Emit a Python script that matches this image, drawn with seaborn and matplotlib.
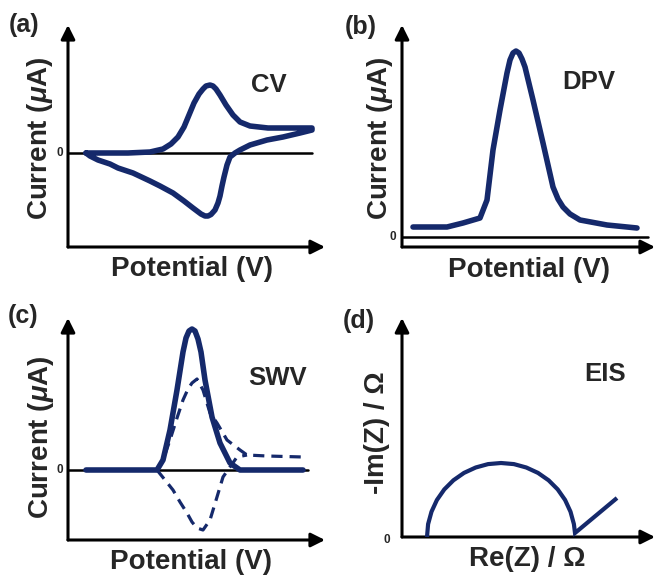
import matplotlib
matplotlib.use("Agg")
import matplotlib.pyplot as plt
import seaborn as sns

# ---------------- data (arbitrary schematic units) ----------------
# (a) CV: forward (upper) branch then reverse (lower) branch, one closed loop
cv_x = [18, 40, 60, 82, 95, 103, 110, 116, 121, 126, 131, 135, 138, 142, 145, 148, 152, 158, 165, 172, 182, 200, 215, 232, 244,
        244, 232, 215, 199, 182, 172, 167, 162, 159, 156, 154, 152, 150, 147, 143, 140, 137, 133, 125, 116, 105, 92, 82, 65, 50, 42, 30, 22, 18]
cv_y = [0, 0, 0, 1, 4, 9, 16, 26, 38, 50, 59, 64, 67, 68, 67, 64, 58, 48, 38, 31, 27, 25, 25, 25, 25,
        23, 20, 16, 13, 8, 3, 0, -4, -12, -24, -33, -43, -50, -57, -61.5, -63, -63, -61, -55, -48, -40, -33, -28, -20, -15, -11, -7, -3, 0]

# (b) DPV
dpv_x = [11, 30, 45, 61, 78, 85, 91, 98, 105, 108, 111, 114, 117, 120, 123, 131, 141, 151, 156, 161, 168, 178, 205, 235]
dpv_y = [10, 10, 10, 14, 19, 37, 87, 127, 164, 177, 184, 186, 184, 178, 170, 137, 94, 50, 38, 30, 23, 17, 12, 9]

# (c) SWV: net (solid), forward and reverse (dashed)
swv_net_x = [18, 40, 60, 89, 95, 102, 109, 115, 118, 121, 124, 127, 130, 133, 137, 144, 152, 162, 172, 200, 235]
swv_net_y = [0, 0, 0, 0, 10, 40, 80, 118, 132, 139, 141, 139, 131, 118, 90, 53, 27, 7, 0, 0, 0]
swv_fwd_x = [89, 95, 102, 109, 115, 120, 124, 129, 135, 142, 149, 159, 172, 179, 199, 235]
swv_fwd_y = [0, 10, 30, 52, 70, 81, 87, 91, 80, 57, 47, 30, 20, 15, 14, 13]
swv_rev_x = [89, 97, 105, 112, 119, 124, 129, 135, 142, 149, 155, 162, 169, 179]
swv_rev_y = [0, -10, -20, -32, -43, -52, -58, -60, -50, -27, -7, 3, 13, 15]

# (d) EIS Nyquist: semicircle + Warburg line
eis_re = [25, 26.1, 29.5, 34.9, 42.3, 51.4, 62, 73.7, 86.1, 99, 111.9, 124.3, 136, 146.6, 155.7, 163.1, 168.5, 171.9, 173, 215]
eis_im = [0, 12.9, 25.3, 37, 47.6, 56.7, 64.1, 69.5, 72.9, 74, 72.9, 69.5, 64.1, 56.7, 47.6, 37, 25.3, 12.9, 4, 39]

panel_tags = ["(a)", "(b)", "(c)", "(d)"]
method_names = ["CV", "DPV", "SWV", "EIS"]
xlabels = ["Potential (V)", "Potential (V)", "Potential (V)", "Re(Z) / Ω"]
ylabels = [r"Current ($\mu$A)", r"Current ($\mu$A)", r"Current ($\mu$A)", "-Im(Z) / Ω"]

# ---------------- style ----------------
sns.set_theme(style="white")
plt.rcParams["font.family"] = ["Liberation Sans", "DejaVu Sans"]
plt.rcParams["font.weight"] = "bold"
plt.rcParams["mathtext.fontset"] = "custom"
plt.rcParams["mathtext.rm"] = "Liberation Sans:bold"
plt.rcParams["mathtext.it"] = "Liberation Sans:italic:bold"

NAVY = "#15296b"
W, H = 660, 575
fig = plt.figure(figsize=(6.6, 5.75), dpi=100)
fig.patch.set_facecolor("white")


def fx(px):
    return px / W


def fy(py):
    return 1 - py / H


def make_axes(x0, x1, ytop, ybot, xlim, ylim):
    ax = fig.add_axes([fx(x0), fy(ybot), (x1 - x0) / W, (ybot - ytop) / H])
    ax.set_xlim(*xlim)
    ax.set_ylim(*ylim)
    for s in ax.spines.values():
        s.set_visible(False)
    ax.set_xticks([])
    ax.set_yticks([])
    ax.set_facecolor("none")
    ax.patch.set_alpha(0)
    arrow = dict(arrowstyle="-|>,head_length=0.7,head_width=0.35", lw=2.2, color="black",
                 shrinkA=0, shrinkB=0)
    ax.annotate("", xy=(1, 0), xytext=(0, 0), xycoords="axes fraction", arrowprops=arrow)
    ax.annotate("", xy=(0, 1), xytext=(0, 0), xycoords="axes fraction", arrowprops=arrow)
    return ax


LW = 4.0

# (a) CV
axa = make_axes(68, 325, 25, 247, (0, 257), (-94, 128))
axa.plot([0, 244], [0, 0], color="black", lw=1.8, zorder=1)
sns.lineplot(x=cv_x, y=cv_y, sort=False, estimator=None, ax=axa, color=NAVY, lw=LW,
             solid_capstyle="round", solid_joinstyle="round", zorder=3)

# (b) DPV
axb = make_axes(402, 655, 25, 247, (0, 253), (-10, 212))
axb.plot([0, 246], [0, 0], color="black", lw=1.8, zorder=1)
sns.lineplot(x=dpv_x, y=dpv_y, sort=False, estimator=None, ax=axb, color=NAVY, lw=LW,
             solid_capstyle="round", solid_joinstyle="round", zorder=3)

# (c) SWV
axc = make_axes(68, 325, 318, 540, (0, 257), (-70, 152))
axc.plot([0, 240], [0, 0], color="black", lw=1.8, zorder=1)
sns.lineplot(x=swv_fwd_x, y=swv_fwd_y, sort=False, estimator=None, ax=axc, color=NAVY, lw=2.3,
             linestyle=(0, (3.5, 2.2)), zorder=2)
sns.lineplot(x=swv_rev_x, y=swv_rev_y, sort=False, estimator=None, ax=axc, color=NAVY, lw=2.3,
             linestyle=(0, (3.5, 2.2)), zorder=2)
sns.lineplot(x=swv_net_x, y=swv_net_y, sort=False, estimator=None, ax=axc, color=NAVY, lw=LW,
             solid_capstyle="round", solid_joinstyle="round", zorder=3)

# (d) EIS
axd = make_axes(402, 655, 318, 537, (0, 253), (0, 219))
sns.lineplot(x=eis_re, y=eis_im, sort=False, estimator=None, ax=axd, color=NAVY, lw=3.0,
             solid_capstyle="butt", solid_joinstyle="miter", zorder=3)

for ax in (axa, axb, axc, axd):
    ax.set_xlabel("")
    ax.set_ylabel("")
    if ax.get_legend() is not None:
        ax.get_legend().remove()

# ---------------- texts ----------------
tag_pos = [(24, 25), (361, 27), (23, 316), (359, 321)]
for t, (px, py) in zip(panel_tags, tag_pos):
    fig.text(fx(px), fy(py), t, fontsize=18, fontweight="bold", ha="center", va="center")

name_pos = [(269, 85), (589, 82), (278, 378), (605, 374)]
for t, (px, py) in zip(method_names, name_pos):
    fig.text(fx(px), fy(py), t, fontsize=18.5, fontweight="bold", ha="center", va="center")

xl_pos = [(192, 269), (529, 270), (191, 562), (527, 559)]
for t, (px, py) in zip(xlabels, xl_pos):
    fig.text(fx(px), fy(py), t, fontsize=20, fontweight="bold", ha="center", va="center")

yl_pos = [(40, 138), (380, 138), (41, 437), (377, 433)]
for t, (px, py) in zip(ylabels, yl_pos):
    fig.text(fx(px), fy(py), t, fontsize=20, fontweight="bold", ha="center", va="center",
             rotation=90)

zero_pos = [(60, 153), (393, 237), (60, 470), (387, 540)]
for px, py in zero_pos:
    fig.text(fx(px), fy(py), "0", fontsize=8.5, fontweight="bold", ha="center", va="center")

fig.savefig("out.png", dpi=100, facecolor="white")
